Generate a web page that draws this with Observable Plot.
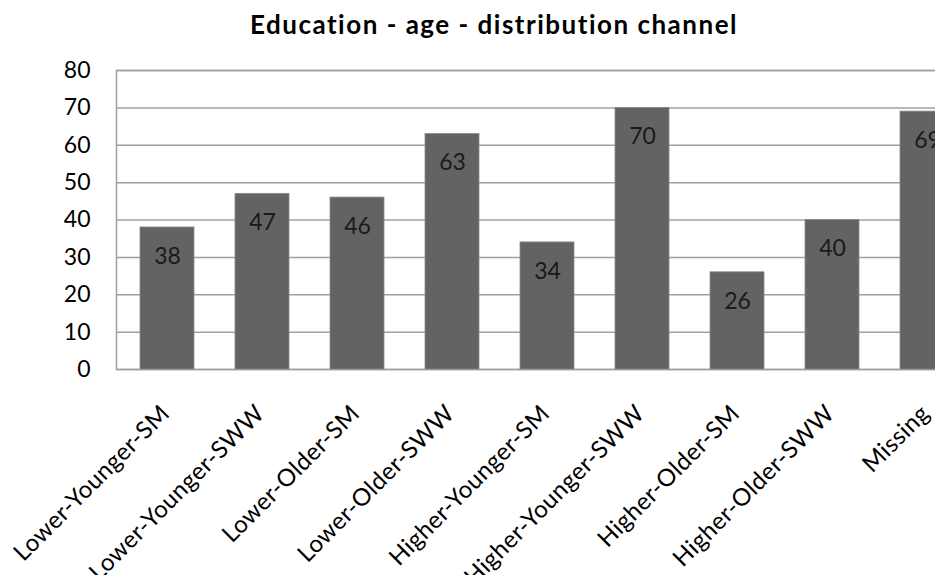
<!DOCTYPE html>
<html>
<head>
<meta charset="utf-8">
<script src="https://cdn.jsdelivr.net/npm/d3@7"></script>
<script src="https://cdn.jsdelivr.net/npm/@observablehq/plot@0.6"></script>
<style>
  html, body { margin: 0; padding: 0; background: #fff; overflow: hidden; }
  #wrap { position: relative; width: 935px; height: 575px; overflow: hidden; font-family: Lato, sans-serif; }
  #title { position: absolute; left: 0; width: 988px; top: 8px; text-align: center; font-weight: bold; font-size: 26px; letter-spacing: 1.5px; color: #000; }
  #chart { position: absolute; left: 0; top: 0; width: 990px; }
  #chart svg { max-width: none !important; width: 990px; height: 575px; }
</style>
</head>
<body>
<div id="wrap">
  <div id="title">Education - age - distribution channel</div>
  <div id="chart"></div>
</div>
<script>
const categories = ["Lower-Younger-SM", "Lower-Younger-SWW", "Lower-Older-SM", "Lower-Older-SWW",
  "Higher-Younger-SM", "Higher-Younger-SWW", "Higher-Older-SM", "Higher-Older-SWW", "Missing"];
const values = [38, 47, 46, 63, 34, 70, 26, 40, 69];
const yTicks = [0, 10, 20, 30, 40, 50, 60, 70, 80];

const data = categories.map((c, i) => ({category: c, value: values[i]}));

const chart = Plot.plot({
  width: 990,
  height: 575,
  marginLeft: 116,
  marginRight: 13,
  marginTop: 70,
  marginBottom: 206,
  style: {fontFamily: "Lato, sans-serif", fontSize: "23px", color: "#000", background: "transparent"},
  x: {domain: categories, paddingInner: 0.435, paddingOuter: 0.2175, label: null},
  y: {domain: [0, 80], label: null},
  marks: [
    Plot.ruleY(yTicks, {stroke: "#a0a0a0", strokeWidth: 1.5, strokeOpacity: 1}),
    Plot.frame({stroke: "#a0a0a0", strokeWidth: 1.5}),
    Plot.barY(data, {x: "category", y: "value", fill: "#636363", stroke: "#8a8a8a", strokeWidth: 0.8}),
    Plot.text(data, {x: "category", y: "value", text: d => String(d.value), dy: 29, fill: "#1a1a1a", fontSize: 23}),
    Plot.axisY(yTicks, {tickSize: 0, tickPadding: 26, label: null, fontSize: 23, fill: "#000"}),
    Plot.axisX({tickSize: 0, tickPadding: 40, tickRotate: -45, dx: -2, label: null, fontSize: 24, fill: "#000"})
  ]
});
chart.style.maxWidth = "none";
chart.querySelectorAll("[aria-label='x-axis tick label'] text").forEach(t => t.style.letterSpacing = "0.4px");
document.getElementById("chart").appendChild(chart);
</script>
</body>
</html>
